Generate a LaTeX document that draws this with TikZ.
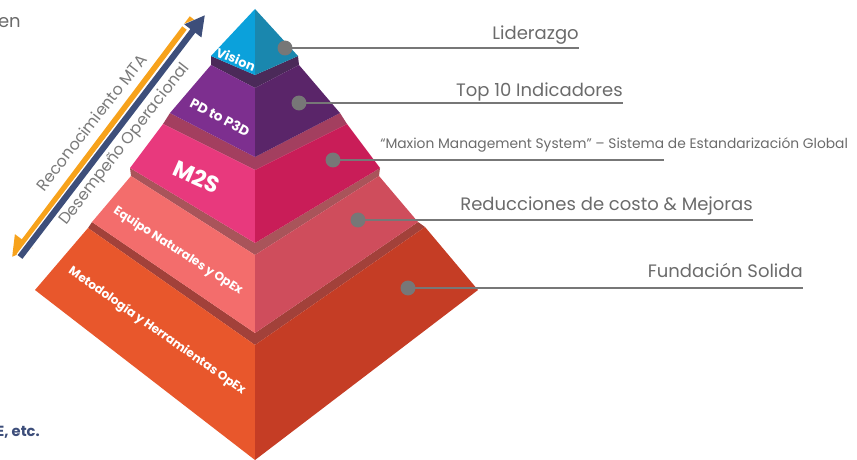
\documentclass[tikz,border=0pt]{standalone}
\usepackage{fontspec}
\setmainfont{Poppins}
\usetikzlibrary{arrows.meta}
\tikzset {>=Stealth}
\definecolor{visL}{HTML}{0BA1DB}
\definecolor{visR}{HTML}{1A87AE}
\definecolor{pdT}{HTML}{4B2A59}
\definecolor{pdL}{HTML}{7D2F8F}
\definecolor{pdR}{HTML}{5A2569}
\definecolor{msT}{HTML}{A33F5F}
\definecolor{msL}{HTML}{E8397D}
\definecolor{msR}{HTML}{C91D58}
\definecolor{eqT}{HTML}{A9545A}
\definecolor{eqL}{HTML}{F36D6C}
\definecolor{eqR}{HTML}{CF4D5C}
\definecolor{mtT}{HTML}{A2413A}
\definecolor{mtL}{HTML}{E8572C}
\definecolor{mtR}{HTML}{C53D25}
\definecolor{arOr}{HTML}{F7A21B}
\definecolor{arBl}{HTML}{3D4E7A}
\definecolor{lead}{HTML}{777777}
\definecolor{lbgray}{HTML}{6B6B6B}
\tikzset{
  lbl/.style={text=lbgray,inner sep=0pt,font=\fontsize{13.5}{16}\selectfont},
  face/.style={text=white,inner sep=0pt,font=\bfseries\fontsize{9.1}{11}\selectfont},
  leader/.style={lead,line width=1.6pt}
}

\begin{document}
\begin{tikzpicture}[x=.75pt,y=-.75pt]
\useasboundingbox (0,0) rectangle (857,460);
\clip (0,0) rectangle (857,460);

\coordinate (A) at (255,9);
\coordinate (VL) at (211,56);
\coordinate (VF) at (255,75);
\coordinate (VR) at (298,56);
\coordinate (PTL) at (211,65);
\coordinate (PTF) at (255,88);
\coordinate (PTR) at (299,65);
\coordinate (PBL) at (170,113);
\coordinate (PBF) at (255,157);
\coordinate (PBR) at (340,113);
\coordinate (MTL) at (163,124);
\coordinate (MTF) at (255,170);
\coordinate (MTR) at (347,124);
\coordinate (MBL) at (130,168);
\coordinate (MBF) at (255,243);
\coordinate (MBR) at (380,168);
\coordinate (ETL) at (131,176);
\coordinate (ETF) at (255,255);
\coordinate (ETR) at (379,176);
\coordinate (EBL) at (92,222);
\coordinate (EBF) at (255,333);
\coordinate (EBR) at (418,222);
\coordinate (OTL) at (88,228);
\coordinate (OTF) at (255,345);
\coordinate (OTR) at (425,227);
\coordinate (OBL) at (35,290);
\coordinate (OBF) at (255,460);
\coordinate (OBR) at (478,290);

\fill[mtT] (OTL) -- (OTF) -- (OTR) -- (EBR) -- (EBF) -- (EBL) -- cycle;
\fill[mtL] (OTL) -- (OTF) -- (OBF) -- (OBL) -- cycle;
\fill[mtR] (OTF) -- (OTR) -- (OBR) -- (OBF) -- cycle;
\fill[eqT] (ETL) -- (ETF) -- (ETR) -- (MBR) -- (MBF) -- (MBL) -- cycle;
\fill[eqL] (ETL) -- (ETF) -- (EBF) -- (EBL) -- cycle;
\fill[eqR] (ETF) -- (ETR) -- (EBR) -- (EBF) -- cycle;
\fill[msT] (MTL) -- (MTF) -- (MTR) -- (PBR) -- (PBF) -- (PBL) -- cycle;
\fill[msL] (MTL) -- (MTF) -- (MBF) -- (MBL) -- cycle;
\fill[msR] (MTF) -- (MTR) -- (MBR) -- (MBF) -- cycle;
\fill[pdT] (PTL) -- (PTF) -- (PTR) -- (VR) -- (VF) -- (VL) -- cycle;
\fill[pdL] (PTL) -- (PTF) -- (PBF) -- (PBL) -- cycle;
\fill[pdR] (PTF) -- (PTR) -- (PBR) -- (PBF) -- cycle;
\fill[visL] (A) -- (VL) -- (VF) -- cycle;
\fill[visR] (A) -- (VF) -- (VR) -- cycle;

\node[face,rotate=-22,font=\bfseries\fontsize{9.6}{11}\selectfont] (vis) at (236,59) {Vision};
\node[face,rotate=-28,font=\bfseries\fontsize{10.2}{12}\selectfont] (pd) at (220,117) {PD to P3D};
\node[face,rotate=-24,font=\bfseries\fontsize{17}{20}\selectfont] (m2s) at (197,177) {M2S};
\node[face,rotate=-33] (eq) at (178,251) {Equipo Naturales y OpEx};
\node[face,rotate=-35] (met) at (157,331) {Metodología y Herramientas OpEx};

\coordinate (O1) at (192,18);
\coordinate (O2) at (12,257);
\coordinate (B1) at (20,257);
\coordinate (B2) at (205,15);
\draw[arOr,line width=4.2pt,-{Triangle[length=15pt,width=16pt]}] (O1) -- (O2);
\draw[white,line width=6.6pt,-{Triangle[length=17pt,width=18pt]}] (B1) -- (B2);
\draw[arBl,line width=4.6pt,-{Triangle[length=15pt,width=15pt]}] (B1) -- (B2);
\node[lbl,text=lbgray!90,anchor=base,rotate=52,font=\fontsize{12}{14}\selectfont] (rec) at (96,126) {Reconocimiento MTA};
\node[lbl,text=lbgray!90,anchor=base,rotate=52,font=\fontsize{12}{14}\selectfont] (des) at (128,147) {Desempeño Operacional};

\coordinate (D1) at (285,48);
\coordinate (E1) at (579,48);
\coordinate (D2) at (299,103);
\coordinate (E2) at (623,103);
\coordinate (D3) at (333,160);
\coordinate (E3) at (664,160);
\coordinate (D4) at (358,220);
\coordinate (E4) at (753,220);
\coordinate (D5) at (408,288);
\coordinate (E5) at (803,288);
\draw[leader] (D1) -- (E1);
\draw[leader] (D2) -- (E2);
\draw[leader] (D3) -- (E3);
\draw[leader] (D4) -- (E4);
\draw[leader] (D5) -- (E5);
\fill[lead] (D1) circle (5.6pt);
\fill[lead] (D2) circle (5.6pt);
\fill[lead] (D3) circle (5.6pt);
\fill[lead] (D4) circle (5.6pt);
\fill[lead] (D5) circle (5.6pt);
\node[lbl,anchor=base east] (lid) at (579,40) {Liderazgo};
\node[lbl,anchor=base east] (top) at (623,96.7) {Top 10 Indicadores};
\node[lbl,anchor=base west,font=\fontsize{10.35}{12}\selectfont] (mms) at (380,148.3) {“Maxion Management System” – Sistema de Estandarización Global};
\node[lbl,anchor=base east] (red) at (753,210) {Reducciones de costo \& Mejoras};
\node[lbl,anchor=base east] (fun) at (803,277) {Fundación Solida};

\node[lbl,anchor=base east] (en) at (21,28) {en};
\node[inner sep=0pt,anchor=base east,text=arBl,font=\bfseries\fontsize{11}{13}\selectfont] (etc) at (40,436) {E, etc.};
\end{tikzpicture}
\end{document}
